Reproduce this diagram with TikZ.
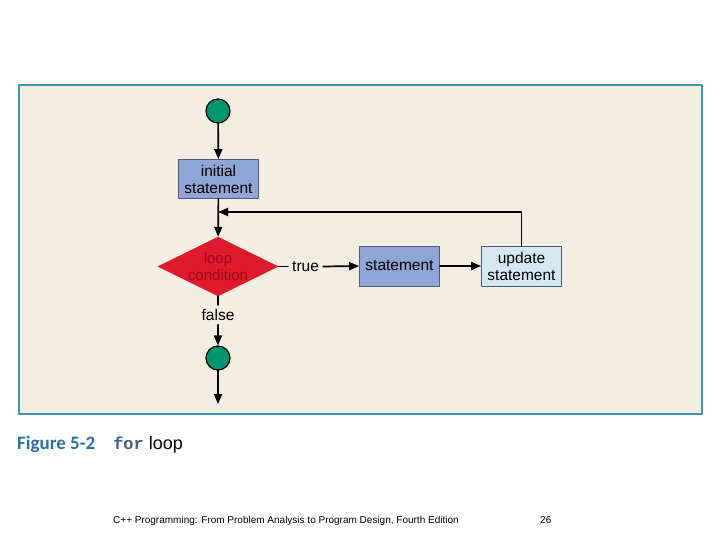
\documentclass[tikz,border=0pt]{standalone}
\usepackage{fontspec}
\setmainfont{Liberation Sans}
\setmonofont{Liberation Mono}
\newfontfamily\capfont{Carlito}
\usetikzlibrary{arrows.meta,shapes.geometric,positioning}

\definecolor{panelbeige}{RGB}{243,237,226}
\definecolor{panelteal}{RGB}{60,150,170}
\definecolor{boxblue}{RGB}{143,165,214}
\definecolor{boxline}{RGB}{80,90,120}
\definecolor{updblue}{RGB}{212,232,242}
\definecolor{condred}{RGB}{222,26,44}
\definecolor{condtext}{RGB}{150,12,22}
\definecolor{termgreen}{RGB}{0,150,112}
\definecolor{capblue}{RGB}{40,110,170}
\definecolor{forgray}{RGB}{70,95,130}

\begin{document}
\begin{tikzpicture}[x=1pt,y=-1pt,line cap=round,line join=round,
    flow/.style={-{Triangle[length=10pt,width=8pt]},line width=1.7pt},
    plain/.style={line width=1.7pt},
    stepbox/.style={draw=boxline,line width=0.8pt,fill=boxblue,
        minimum width=80pt,minimum height=39pt,inner sep=2pt,
        align=center,font=\fontsize{15.5}{17}\selectfont},
    term/.style={circle,draw=black,line width=1.2pt,fill=termgreen,
        minimum size=24pt,inner sep=0pt},
    lbl/.style={inner sep=4pt,font=\fontsize{15.5}{17}\selectfont}]
    \useasboundingbox (0,0) rectangle (720,540);

    \fill[panelbeige] (19,85) rectangle (702,414);
    \draw[panelteal,line width=2pt] (19,85) rectangle (702,414);

    \node[term] (start) at (218,111) {};
    \node[stepbox] (init) at (218.5,179) {initial\\statement};
    \node[diamond,draw=condred,fill=condred,aspect=2,inner sep=0pt,
        minimum width=120pt,minimum height=59pt,align=center,
        text=condtext,font=\fontsize{15}{16.5}\selectfont]
        (cond) at (218,266.5) {loop\\condition};
    \node[lbl,anchor=west] (truelbl) at (288,266.5) {true};
    \node[stepbox,minimum height=40pt] (body) at (399.5,266) {statement};
    \node[stepbox,fill=updblue,minimum height=40pt] (update) at (521.5,266)
        {update\\statement};
    \node[lbl,anchor=north] (falselbl) at (218,305) {false};
    \node[term] (stop) at (218,358) {};
    \coordinate (join) at (218,212);
    \coordinate (exitpt) at (218,404);

    \draw[flow] (start) -- (init);
    \draw[flow] (init) -- (cond);
    \draw[flow] (update.north) |- (join);
    \draw[plain] (cond.east) -- (truelbl.west);
    \draw[flow] (truelbl.east) -- (body.west);
    \draw[flow] (body) -- (update);
    \draw[plain] (cond.south) -- (falselbl.north);
    \draw[flow] (falselbl.south) -- (stop.north);
    \draw[flow] (stop.south) -- (exitpt);

    \node[anchor=base west,inner sep=0pt] (caption) at (17,449)
        {\capfont\bfseries\fontsize{19}{20}\selectfont\color{capblue}Figure 5-2\hspace{18pt}%
        {\ttfamily\bfseries\fontsize{17}{20}\selectfont\color{forgray}for}\hspace{5pt}%
        \rmfamily\mdseries\fontsize{18}{20}\selectfont\color{black}loop};
    \node[anchor=base west,inner sep=0pt,font=\fontsize{10}{11}\selectfont]
        (footer) at (113,523)
        {C++ Programming: From Problem Analysis to Program Design, Fourth Edition};
    \node[anchor=base west,inner sep=0pt,font=\fontsize{10}{11}\selectfont]
        (pagenum) at (540,523) {26};
\end{tikzpicture}
\end{document}
